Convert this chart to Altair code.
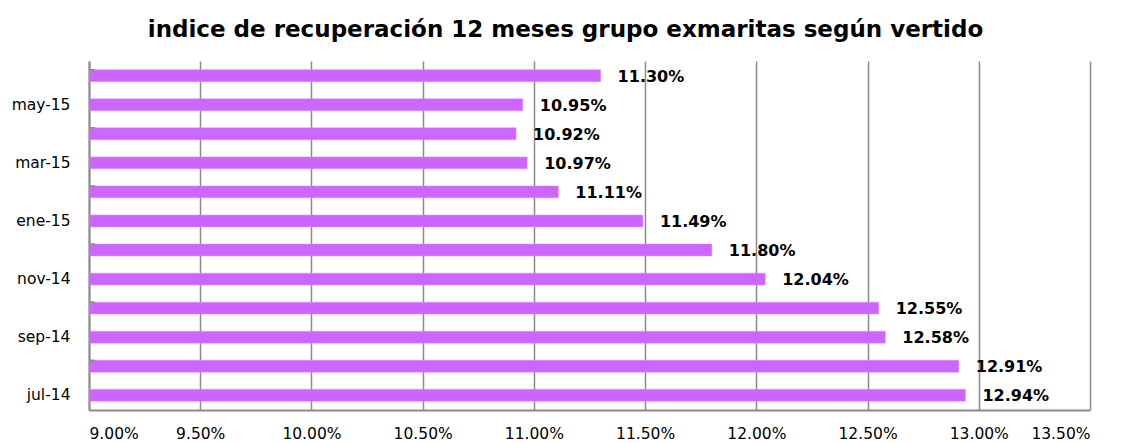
import altair as alt
import pandas as pd

months = ["jun-15", "may-15", "abr-15", "mar-15", "feb-15", "ene-15",
          "dic-14", "nov-14", "oct-14", "sep-14", "ago-14", "jul-14"]
values = [0.1130, 0.1095, 0.1092, 0.1097, 0.1111, 0.1149,
          0.1180, 0.1204, 0.1255, 0.1258, 0.1291, 0.1294]
shown_labels = ["may-15", "mar-15", "ene-15", "nov-14", "sep-14", "jul-14"]
tick_months = ["jun-15", "abr-15", "feb-15", "dic-14", "oct-14", "ago-14"]

df = pd.DataFrame({"mes": months, "valor": values})
ticks_df = pd.DataFrame({"mes": tick_months})

FONT = "DejaVu Sans"
GRAY = "#8a8a8a"

label_expr = "indexof(" + str(shown_labels) + ", datum.value) >= 0 ? datum.value : ''"

y_enc = alt.Y(
    "mes:N",
    sort=months,
    scale=alt.Scale(paddingInner=0.59, paddingOuter=0.3),
    axis=alt.Axis(
        title=None,
        ticks=False,
        labelExpr=label_expr,
        labelFont=FONT,
        labelFontSize=15.5,
        labelColor="#000000",
        labelPadding=19,
        domainColor=GRAY,
        domainWidth=2,
        grid=False,
    ),
)

x_enc = alt.X(
    "valor:Q",
    scale=alt.Scale(domain=[0.09, 0.135], nice=False, zero=False),
    axis=alt.Axis(
        title=None,
        format=".2%",
        values=[0.09, 0.095, 0.10, 0.105, 0.11, 0.115, 0.12, 0.125, 0.13, 0.135],
        ticks=False,
        labelFont=FONT,
        labelFontSize=15.5,
        labelColor="#000000",
        labelPadding=16,
        domainColor=GRAY,
        domainWidth=2,
        grid=True,
        gridColor=GRAY,
        gridWidth=1.5,
        gridOpacity=1,
    ),
)

bars = alt.Chart(df).mark_bar(color="#CC66FF", stroke="#D98CFF", strokeWidth=0.5, clip=True).encode(
    x=x_enc,
    y=y_enc,
)

labels = alt.Chart(df).mark_text(
    align="left", baseline="middle", dx=17, dy=1,
    font=FONT, fontSize=16, fontWeight="bold", color="#000000",
).encode(
    x="valor:Q",
    y=alt.Y("mes:N", sort=months),
    text=alt.Text("valor:Q", format=".2%"),
)

inner_ticks = alt.Chart(ticks_df).mark_rule(color=GRAY, strokeWidth=1.5).encode(
    y=alt.Y("mes:N", sort=months, bandPosition=0),
    x=alt.value(0),
    x2=alt.value(6),
)

chart = alt.layer(bars, labels, inner_ticks).properties(
    width=1001,
    height=349,
    title=alt.TitleParams(
        "indice de recuperación 12 meses grupo exmaritas según vertido",
        font=FONT, fontSize=23, fontWeight="bold", color="#000000",
        anchor="middle", offset=19, dx=-24,
    ),
    padding={"left": 81, "top": 53, "right": 20, "bottom": 33},
    autosize=alt.AutoSizeParams(type="none"),
).configure_view(stroke=None)

chart.save("out.html", embed_options={"renderer": "svg", "actions": False})
